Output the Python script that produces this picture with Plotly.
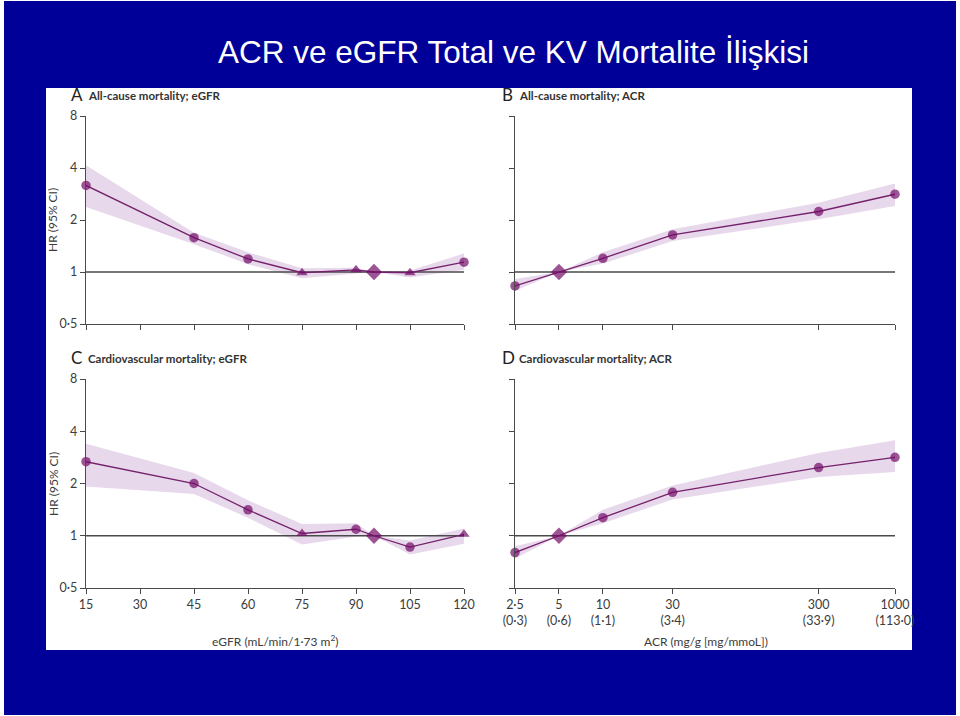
import plotly.graph_objects as go

# ---------------- data ----------------
egfr = [15, 45, 60, 75, 90, 95, 105, 120]
egfr_ticks = [15, 30, 45, 60, 75, 90, 105, 120]

A_hr = [3.17, 1.58, 1.19, 0.99, 1.03, 1.00, 0.99, 1.14]
A_lo = [2.38, 1.45, 1.11, 0.92, 0.98, 1.00, 0.93, 1.03]
A_hi = [4.15, 1.69, 1.30, 1.05, 1.06, 1.00, 1.02, 1.28]
A_sym = ["circle", "circle", "circle", "triangle-up", "triangle-up", "diamond", "triangle-up", "circle"]

C_hr = [2.67, 2.00, 1.41, 1.03, 1.09, 1.00, 0.86, 1.02]
C_lo = [1.92, 1.74, 1.27, 0.89, 0.99, 1.00, 0.78, 0.90]
C_hi = [3.39, 2.30, 1.60, 1.17, 1.18, 1.00, 0.94, 1.10]
C_sym = ["circle", "circle", "circle", "triangle-up", "circle", "diamond", "circle", "triangle-up"]

acr = [2.5, 5, 10, 30, 300, 1000]
acr_ticktext = ["2·5<br>(0·3)", "5<br>(0·6)", "10<br>(1·1)", "30<br>(3·4)", "300<br>(33·9)", "1000<br>(113·0)"]

B_hr = [0.83, 1.00, 1.20, 1.64, 2.24, 2.82]
B_lo = [0.78, 1.00, 1.12, 1.51, 2.02, 2.41]
B_hi = [0.91, 1.00, 1.30, 1.77, 2.52, 3.25]

D_hr = [0.80, 1.00, 1.27, 1.78, 2.47, 2.83]
D_lo = [0.74, 1.00, 1.18, 1.62, 2.18, 2.33]
D_hi = [0.87, 1.00, 1.41, 1.95, 3.00, 3.55]
acr_sym = ["circle", "diamond", "circle", "circle", "circle", "circle"]

hr_ticks = [0.5, 1, 2, 4, 8]
hr_ticktext = ["0·5", "1", "2", "4", "8"]

panel_titles = ["All-cause mortality; eGFR", "All-cause mortality; ACR",
                "Cardiovascular mortality; eGFR", "Cardiovascular mortality; ACR"]
panel_letters = ["A", "B", "C", "D"]
title_text = "ACR ve eGFR Total ve KV Mortalite İlişkisi"

# ---------------- style ----------------
W, H = 960, 716
NAVY = "rgb(0,0,153)"
PURPLE = "#740c68"
LINE = "#74216b"
BAND = "#e8d8eb"
AX = "#4a4a4a"
TXT = "#3c3c3c"
FONT = "Lato"

def px_x(x):
    return x / W

def px_y(y):
    return (H - y) / H

fig = go.Figure()

def marker_sizes(syms):
    return [12.5 if s == "diamond" else (10 if s.startswith("triangle") else 9.5) for s in syms]

def add_panel(xs, hr, lo, hi, syms, xa, ya):
    fig.add_trace(go.Scatter(x=xs, y=hi, mode="lines", line=dict(width=0, color=BAND),
                             xaxis=xa, yaxis=ya, showlegend=False, hoverinfo="skip"))
    fig.add_trace(go.Scatter(x=xs, y=lo, mode="lines", line=dict(width=0, color=BAND),
                             fill="tonexty", fillcolor=BAND,
                             xaxis=xa, yaxis=ya, showlegend=False, hoverinfo="skip"))
    fig.add_trace(go.Scatter(x=[xs[0], xs[-1]], y=[1, 1], mode="lines",
                             line=dict(width=1.3, color=AX), xaxis=xa, yaxis=ya,
                             showlegend=False, hoverinfo="skip", cliponaxis=False))
    fig.add_trace(go.Scatter(x=xs, y=hr, mode="lines+markers",
                             line=dict(width=1.3, color=LINE),
                             marker=dict(symbol=syms, size=marker_sizes(syms), color=PURPLE,
                                         line=dict(width=0)),
                             xaxis=xa, yaxis=ya, showlegend=False, cliponaxis=False))

add_panel(egfr, A_hr, A_lo, A_hi, A_sym, "x", "y")
add_panel(acr, B_hr, B_lo, B_hi, acr_sym, "x2", "y2")
add_panel(egfr, C_hr, C_lo, C_hi, C_sym, "x3", "y3")
add_panel(acr, D_hr, D_lo, D_hi, acr_sym, "x4", "y4")

xdom_l = [px_x(86), px_x(464)]
xdom_r = [px_x(515), px_x(895)]
ydom_t = [px_y(324), px_y(116)]
ydom_b = [px_y(588), px_y(379)]

tickfont = dict(family=FONT, size=12.5, color=TXT)
common_x = dict(showgrid=False, zeroline=False, showline=True, linecolor=AX, linewidth=1.3,
                ticks="outside", ticklen=5, tickcolor=AX, tickwidth=1.3, tickfont=tickfont,
                automargin=False)
common_y = dict(type="log", range=[-0.30103, 0.90309], showgrid=False, zeroline=False,
                showline=True, linecolor=AX, linewidth=1.3, ticks="outside", ticklen=5,
                tickcolor=AX, tickwidth=1.3, tickfont=tickfont, automargin=False,
                tickvals=hr_ticks, ticktext=hr_ticktext)

fig.update_layout(
    template="none",
    xaxis=dict(domain=xdom_l, range=[15, 120], tickvals=egfr_ticks, showticklabels=False,
               anchor="y", **common_x),
    yaxis=dict(domain=ydom_t, anchor="x", **common_y),
    xaxis2=dict(domain=xdom_r, type="log", range=[0.39794, 3.0], tickvals=acr,
                showticklabels=False, anchor="y2", **common_x),
    yaxis2=dict(domain=ydom_t, anchor="x2", showticklabels=False, **common_y),
    xaxis3=dict(domain=xdom_l, range=[15, 120], tickvals=egfr_ticks, anchor="y3", **common_x),
    yaxis3=dict(domain=ydom_b, anchor="x3", **common_y),
    xaxis4=dict(domain=xdom_r, type="log", range=[0.39794, 3.0], tickvals=acr,
                ticktext=acr_ticktext, anchor="y4", **common_x),
    yaxis4=dict(domain=ydom_b, anchor="x4", showticklabels=False, **common_y),
)

# background: navy slide with white image area
shapes = [
    dict(type="rect", xref="paper", yref="paper", x0=px_x(4), x1=px_x(956), y0=px_y(715), y1=px_y(1),
         fillcolor=NAVY, line=dict(width=0), layer="below"),
    dict(type="rect", xref="paper", yref="paper", x0=px_x(46), x1=px_x(912), y0=px_y(650), y1=px_y(88),
         fillcolor="white", line=dict(width=0), layer="below"),
]

ann = []
ann.append(dict(text=title_text, x=px_x(513), y=px_y(52), xref="paper", yref="paper",
                showarrow=False, xanchor="center", yanchor="middle",
                font=dict(family="Liberation Sans, Arial", size=31.5, color="white")))

letter_pos = [(69, 96), (500, 96), (69, 358), (500, 358)]
for (lx, ly), letter, ttl in zip(letter_pos, panel_letters, panel_titles):
    ann.append(dict(text=letter, x=px_x(lx), y=px_y(ly - 1), xref="paper", yref="paper",
                    showarrow=False, xanchor="left", yanchor="middle",
                    font=dict(family=FONT, size=17, color="#222")))
    ann.append(dict(text=f"<b>{ttl}</b>", x=px_x(lx + 17), y=px_y(ly), xref="paper", yref="paper",
                    showarrow=False, xanchor="left", yanchor="middle",
                    font=dict(family=FONT, size=11.5, color="#333")))

for yc in (220, 484):
    ann.append(dict(text="HR (95% CI)", x=px_x(53), y=px_y(yc), xref="paper", yref="paper",
                    showarrow=False, textangle=-90, xanchor="center", yanchor="middle",
                    font=dict(family=FONT, size=12, color=TXT)))

ann.append(dict(text="eGFR (mL/min/1·73 m<sup>2</sup>)", x=px_x(275), y=px_y(641), xref="paper",
                yref="paper", showarrow=False, xanchor="center", yanchor="middle",
                font=dict(family=FONT, size=12, color=TXT)))
ann.append(dict(text="ACR (mg/g [mg/mmoL])", x=px_x(706), y=px_y(641), xref="paper",
                yref="paper", showarrow=False, xanchor="center", yanchor="middle",
                font=dict(family=FONT, size=12, color=TXT)))

fig.update_layout(
    width=W, height=H, margin=dict(l=0, r=0, t=0, b=0, pad=0), autosize=False,
    paper_bgcolor="white", plot_bgcolor="rgba(0,0,0,0)",
    shapes=shapes, annotations=ann, showlegend=False,
)

fig.write_html("out.html", config={"displayModeBar": False},
               post_script="document.body.style.margin='0';document.body.style.overflow='hidden';")
